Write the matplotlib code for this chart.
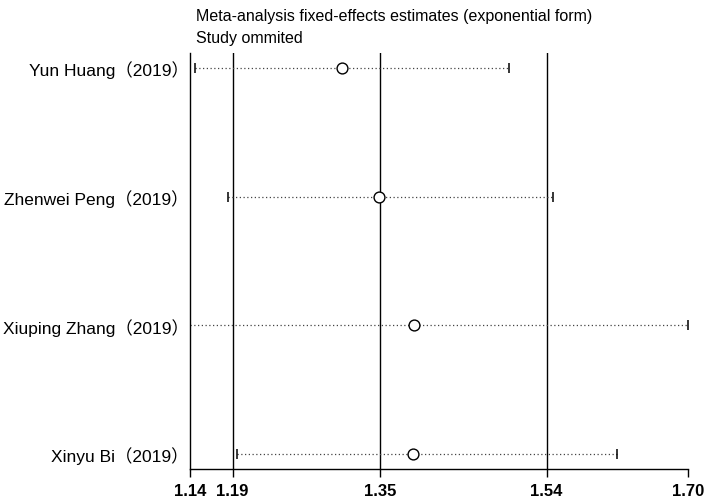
import matplotlib
matplotlib.use("Agg")
import matplotlib.pyplot as plt

plt.rcParams['font.family'] = ['Liberation Sans', 'Noto Sans CJK SC', 'DejaVu Sans']

studies = ["Yun Huang（2019）", "Zhenwei Peng（2019）", "Xiuping Zhang（2019）", "Xinyu Bi（2019）"]
estimate = [1.311, 1.3525, 1.392, 1.391]
lower = [1.1456, 1.1827, 1.140, 1.1929]
upper = [1.499, 1.548, 1.700, 1.620]
ref_lines = [1.188, 1.354, 1.541]
xmin, xmax = 1.14, 1.70
tick_values = [1.14, 1.188, 1.354, 1.541, 1.70]
tick_labels = ["1.14", "1.19", "1.35", "1.54", "1.70"]
title_lines = ["Meta-analysis fixed-effects estimates (exponential form)", "Study ommited"]

W, H = 714, 502
fig = plt.figure(figsize=(W / 100, H / 100), dpi=100)
ax = fig.add_axes([190 / W, 1 - 470 / H, (688 - 190) / W, (470 - 54) / H])

ypos = list(range(1, len(studies) + 1))
for y, e, lo, hi in zip(ypos, estimate, lower, upper):
    ax.plot([lo, hi], [y, y], linestyle=(0, (1, 2)), color='#444444', lw=0.9, zorder=2)
    ax.plot([lo, hi], [y, y], linestyle='none', marker='|', markersize=7,
            markeredgewidth=1.1, color='black', zorder=3)
    ax.plot([e], [y], marker='o', markersize=7.8, markerfacecolor='white',
            markeredgecolor='black', markeredgewidth=1.0, linestyle='none', zorder=4)

for r in ref_lines:
    ax.axvline(r, color='black', lw=1.0, zorder=1)

ax.set_xlim(xmin, xmax)
ax.set_ylim(len(studies) + 0.116, 1 - 0.116)
ax.set_xticks(tick_values)
ax.set_xticklabels(tick_labels, fontsize=12, fontweight='bold')
ax.tick_params(axis='x', direction='out', length=6, width=1, pad=4)
ax.set_yticks(ypos)
ax.set_yticklabels(studies, fontsize=12.5)
ax.tick_params(axis='y', length=0, pad=1)
for s in ['top', 'right']:
    ax.spines[s].set_visible(False)
for s in ['left', 'bottom']:
    ax.spines[s].set_linewidth(1.0)

fig.text(196 / W, 1 - 17 / H, title_lines[0], fontsize=11.5, va='center', ha='left')
fig.text(196 / W, 1 - 38 / H, title_lines[1], fontsize=11.5, va='center', ha='left')

fig.savefig("out.png", dpi=100)
